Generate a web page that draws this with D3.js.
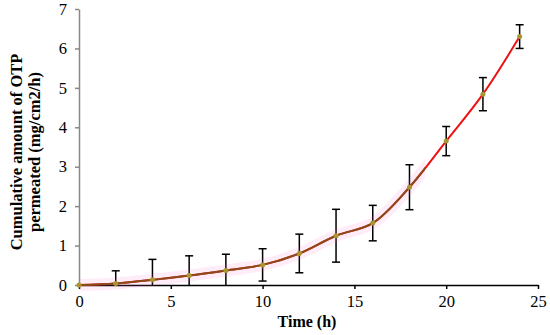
<!DOCTYPE html>
<html><head><meta charset="utf-8">
<script src="https://cdn.jsdelivr.net/npm/d3@7"></script>
<style>body{margin:0;background:#fff}svg{display:block}
svg text{font-family:"Liberation Serif","Times New Roman",serif}</style>
</head><body>
<script>
const times = [0, 2, 4, 6, 8, 10, 12, 14, 16, 18, 20, 22, 24];
const amounts = [0, 0.04, 0.13, 0.24, 0.37, 0.51, 0.80, 1.25, 1.57, 2.48, 3.65, 4.84, 6.30];
const errors = [0, 0.32, 0.52, 0.50, 0.41, 0.41, 0.49, 0.67, 0.45, 0.57, 0.37, 0.42, 0.30];
const xTicks = [0, 5, 10, 15, 20, 25];
const yTicks = [0, 1, 2, 3, 4, 5, 6, 7];
const xTitle = "Time (h)";
const yTitleLines = ["Cumulative amount of OTP", "permeated (mg/cm2/h)"];
const brownEnd = 18.85;

const W = 550, H = 335;
const svg = d3.select("body").append("svg").attr("width", W).attr("height", H);
const x = d3.scaleLinear().domain([0, 25]).range([79, 538]);
const y = d3.scaleLinear().domain([0, 7]).range([285, 9]);
const data = times.map((t, i) => ({t, v: amounts[i], e: errors[i]}));

// axes
const xAxis = svg.append("g").attr("transform", `translate(0,${y(0)})`)
  .call(d3.axisBottom(x).tickValues(xTicks).tickFormat(d3.format("d")).tickSize(4).tickSizeOuter(0).tickPadding(6));
xAxis.select(".domain").attr("stroke", "#000").attr("stroke-width", 1.5);
xAxis.selectAll(".tick line").attr("stroke", "#000").attr("stroke-width", 1.5);
const yAxis = svg.append("g").attr("transform", `translate(${x(0)},0)`)
  .call(d3.axisLeft(y).tickValues(yTicks).tickFormat(d3.format("d")).tickSize(4).tickSizeOuter(0).tickPadding(8));
yAxis.select(".domain").attr("stroke", "#888").attr("stroke-width", 1.5);
yAxis.selectAll(".tick line").attr("stroke", "#888").attr("stroke-width", 1.5);
svg.selectAll(".tick text").attr("font-family", null)
  .attr("font-size", 16.5).attr("fill", "#000");

// error bars
const eb = svg.append("g").attr("stroke", "#000").attr("stroke-width", 1.5);
data.filter(d => d.e > 0).forEach(d => {
  const top = y(d.v + d.e), bot = y(Math.max(0, d.v - d.e)), cx = x(d.t);
  eb.append("line").attr("x1", cx).attr("x2", cx).attr("y1", top).attr("y2", bot);
  eb.append("line").attr("x1", cx - 4).attr("x2", cx + 4).attr("y1", top).attr("y2", top);
  if (d.v - d.e > 0) eb.append("line").attr("x1", cx - 4).attr("x2", cx + 4).attr("y1", bot).attr("y2", bot);
});

const line = d3.line().x(d => x(d.t)).y(d => y(d.v)).curve(d3.curveCatmullRom.alpha(0.5));
svg.append("defs").append("clipPath").attr("id", "lowclip")
  .append("rect").attr("x", 0).attr("y", 0).attr("width", x(brownEnd)).attr("height", H);

svg.append("path").datum(data).attr("d", line).attr("fill", "none")
  .attr("stroke", "#ff66cc").attr("stroke-opacity", 0.12).attr("stroke-width", 12)
  .attr("clip-path", "url(#lowclip)");
svg.append("path").datum(data).attr("d", line).attr("fill", "none")
  .attr("stroke", "#ee1111").attr("stroke-width", 2);
svg.append("path").datum(data).attr("d", line).attr("fill", "none")
  .attr("stroke", "#8b4a1a").attr("stroke-width", 2).attr("clip-path", "url(#lowclip)");

svg.append("g").selectAll("circle").data(data).join("circle")
  .attr("cx", d => x(d.t)).attr("cy", d => y(d.v)).attr("r", 2.5).attr("fill", "#a8962e");

// titles
svg.append("text").attr("x", 307).attr("y", 327).attr("text-anchor", "middle")
  .attr("font-weight", "bold").attr("font-size", 16).text(xTitle);
const yt = svg.append("text").attr("transform", "translate(0,152) rotate(-90)")
  .attr("text-anchor", "middle").attr("font-weight", "bold").attr("font-size", 16.5);
yt.append("tspan").attr("x", 0).attr("y", 22).text(yTitleLines[0]);
yt.append("tspan").attr("x", 0).attr("y", 40).text(yTitleLines[1]);
</script>
</body></html>
